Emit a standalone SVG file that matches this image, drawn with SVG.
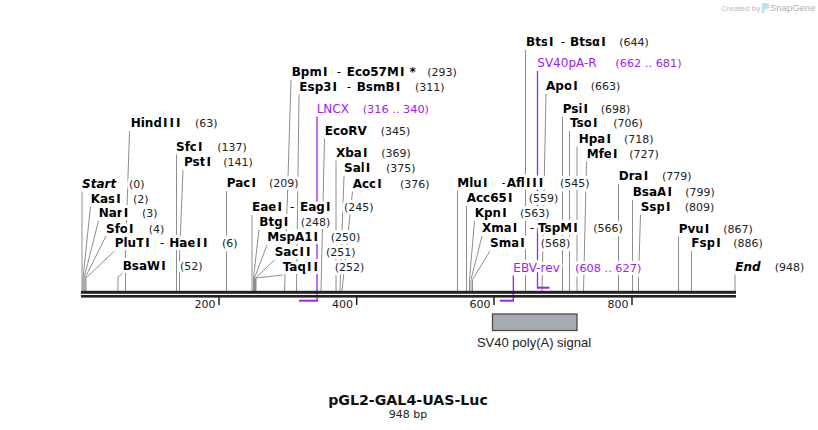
<svg xmlns="http://www.w3.org/2000/svg" width="818" height="430" viewBox="0 0 818 430">
<style>
text{font-family:"DejaVu Sans",Verdana,sans-serif}
.lbl text{stroke:#fff;stroke-width:6;stroke-linejoin:round;paint-order:stroke fill}
.n{font-size:12px;font-weight:bold;fill:#000}
.i{font-style:italic}
.c{font-size:11px;fill:#222}
.d{font-size:12px;fill:#000}
.p{font-size:12px;fill:#a020f0}
.pc{font-size:11.3px;fill:#a020f0}
.prm{fill:#a020f0}
#connectors path{fill:none;stroke:#8e8e8e;stroke-width:1}
#connectors path.pr{stroke:#a020f0;stroke-width:1.3}
.bb{fill:#222}
.tk{stroke:#222;stroke-width:1.5}
.tl{font-size:11px;fill:#222;text-anchor:end}
</style>
<rect width="818" height="430" fill="#fff"/>

<g id="logo">
<text x="721" y="10.5" style="font-family:'Liberation Sans',Arial,sans-serif;font-size:8px;fill:#bcbcbc">Created by</text>
<path d="M762 3h4.5a3 3 0 0 1 0 6h-2v4h-2.5z" fill="#bfe0f2"/>
<text x="770" y="11" style="font-family:'Liberation Sans',Arial,sans-serif;font-size:9.5px;fill:#b0b0b0">SnapGene</text>
</g>

<g id="connectors">
<path d="M82,291V191.5"/>
<path d="M83,291V278L90.5,206.5"/>
<path d="M84,291V278L98.5,221"/>
<path d="M85,291V278L106,236"/>
<path d="M86,291V278L114.5,251"/>
<path d="M118,291V277L122.5,273.5"/>
<path d="M125.5,291V253L129.5,131"/>
<path d="M176.5,291V154.5"/>
<path d="M179.5,291V257L183,170"/>
<path d="M226.5,291V191"/>
<path d="M252,291V215"/>
<path d="M253.5,291V278L259,229.5"/>
<path d="M254.5,291V278L267,245"/>
<path d="M255.5,291V278L274.5,260"/>
<path d="M256,291V278L282.5,275"/>
<path d="M284.5,291L291,80"/>
<path d="M296.5,291L299,94.5"/>
<path d="M321,291L324.5,138.5"/>
<path d="M336,291V160.5"/>
<path d="M340,291L344,176"/>
<path d="M342,291L352.5,191.5"/>
<path d="M457.5,291V191"/>
<path d="M466.5,291V206"/>
<path d="M469.5,291V279.5L474.5,221"/>
<path d="M471,291V279.5L482,236"/>
<path d="M472.5,291V279.5L490,251"/>
<path d="M525.5,291V50"/>
<path d="M542,291L546,94"/>
<path d="M562.5,291V116.5"/>
<path d="M569.5,291V131"/>
<path d="M577,291V146.5"/>
<path d="M583.5,291L586.5,161.5"/>
<path d="M618.5,291V184"/>
<path d="M632.5,291V200"/>
<path d="M638.5,291V280L640.5,214.5"/>
<path d="M678.5,291V236.5"/>
<path d="M691.5,291V251"/>
<path d="M735,291V274.5"/>
<path class="pr" d="M317,116.5V301"/>
<path class="pr" d="M513.3,275.5V301"/>
<path class="pr" d="M537.5,71V288"/>
</g>

<g id="backbone">
<rect class="bb" x="81" y="290.8" width="655" height="3"/>
<rect class="bb" x="81" y="295" width="655" height="2.6"/>
<line class="tk" x1="219" y1="297" x2="219" y2="305"/>
<line class="tk" x1="356.7" y1="297" x2="356.7" y2="305"/>
<line class="tk" x1="494" y1="297" x2="494" y2="305"/>
<line class="tk" x1="632" y1="297" x2="632" y2="305"/>
<text class="tl" x="215.5" y="307.5">200</text>
<text class="tl" x="353" y="307.5">400</text>
<text class="tl" x="490.5" y="307.5">600</text>
<text class="tl" x="628.5" y="307.5">800</text>
</g>

<g id="lncx-primer"><rect class="prm" x="299" y="299.7" width="19" height="2"/></g>
<g id="ebv-rev-primer"><rect class="prm" x="500" y="299.7" width="14" height="2"/></g>
<g id="sv40pa-r-primer"><rect class="prm" x="537" y="286.7" width="12.5" height="2"/></g>

<g id="sv40-polya-signal">
<rect x="492.5" y="314" width="84.5" height="16.5" fill="#a6abb3" stroke="#4a4a4a" stroke-width="1.3"/>
<text x="534" y="347" text-anchor="middle" style="font-family:'Liberation Sans',Arial,sans-serif;font-size:13px;fill:#222">SV40 poly(A) signal</text>
</g>

<g class="lbl">
<g id="start"><text class="n i" x="82" y="187.5">Start</text><text class="c" x="129" y="187.5">(0)</text></g>
<g id="kasi"><text class="n" x="90.7" y="202.7">Kas<tspan dx="1">I</tspan></text><text class="c" x="133" y="202.7">(2)</text></g>
<g id="nari"><text class="n" x="98.7" y="217.3">Nar<tspan dx="1">I</tspan></text><text class="c" x="142" y="217.3">(3)</text></g>
<g id="sfoi"><text class="n" x="106" y="232.5">Sfo<tspan dx="1">I</tspan></text><text class="c" x="148.7" y="232.5">(4)</text></g>
<g id="pluti-haeii"><text class="n" x="114.7" y="247.3">PluT<tspan dx="1">I</tspan></text><text class="d" x="160" y="247.3">-</text><text class="n" x="169.3" y="247.3">Hae<tspan dx="1">I</tspan><tspan dx="2">I</tspan></text><text class="c" x="222" y="247.3">(6)</text></g>
<g id="bsawi"><text class="n" x="122.7" y="270">BsaW<tspan dx="1">I</tspan></text><text class="c" x="180" y="270">(52)</text></g>
<g id="hindiii"><text class="n" x="130.7" y="127.3">Hind<tspan dx="1">I</tspan><tspan dx="2">I</tspan><tspan dx="2">I</tspan></text><text class="c" x="195" y="127.3">(63)</text></g>
<g id="sfci"><text class="n" x="176" y="150.7">Sfc<tspan dx="1">I</tspan></text><text class="c" x="217.3" y="150.7">(137)</text></g>
<g id="psti"><text class="n" x="184" y="166">Pst<tspan dx="1">I</tspan></text><text class="c" x="223.3" y="166">(141)</text></g>
<g id="paci"><text class="n" x="226.7" y="187.3">Pac<tspan dx="1">I</tspan></text><text class="c" x="269" y="187.3">(209)</text></g>
<g id="eaei-eagi"><text class="n" x="252" y="210.7">Eae<tspan dx="1">I</tspan></text><text class="d" x="290" y="210.7">-</text><text class="n" x="300" y="210.7">Eag<tspan dx="1">I</tspan></text><text class="c" x="344" y="210.7">(245)</text></g>
<g id="btgi"><text class="n" x="259.3" y="225.7">Btg<tspan dx="1">I</tspan></text><text class="c" x="300.7" y="225.7">(248)</text></g>
<g id="mspa1i"><text class="n" x="267.3" y="241">MspA1<tspan dx="1">I</tspan></text><text class="c" x="330.7" y="241">(250)</text></g>
<g id="sacii"><text class="n" x="274.7" y="256">Sac<tspan dx="1">I</tspan><tspan dx="2">I</tspan></text><text class="c" x="326" y="256">(251)</text></g>
<g id="taqii"><text class="n" x="282.7" y="271">Taq<tspan dx="1">I</tspan><tspan dx="2">I</tspan></text><text class="c" x="334.7" y="271">(252)</text></g>
<g id="bpmi-eco57mi"><text class="n" x="291.7" y="76">Bpm<tspan dx="1">I</tspan></text><text class="d" x="336.7" y="76">-</text><text class="n" x="346.7" y="76">Eco57M<tspan dx="1">I</tspan><tspan dx="1"> *</tspan></text><text class="c" x="427.3" y="76">(293)</text></g>
<g id="esp3i-bsmbi"><text class="n" x="299.3" y="90.7">Esp3<tspan dx="1">I</tspan></text><text class="d" x="346.7" y="90.7">-</text><text class="n" x="356.7" y="90.7">BsmB<tspan dx="1">I</tspan></text><text class="c" x="415" y="90.7">(311)</text></g>
<g id="lncx"><text class="p" x="316.7" y="112.7">LNCX</text><text class="pc" x="362.7" y="112.7">(316 .. 340)</text></g>
<g id="ecorv"><text class="n" x="324.7" y="134.7">EcoRV</text><text class="c" x="380.7" y="134.7">(345)</text></g>
<g id="xbai"><text class="n" x="336" y="156.7">Xba<tspan dx="1">I</tspan></text><text class="c" x="381.3" y="156.7">(369)</text></g>
<g id="sali"><text class="n" x="344" y="172.3">Sal<tspan dx="1">I</tspan></text><text class="c" x="386" y="172.3">(375)</text></g>
<g id="acci"><text class="n" x="352.7" y="187.7">Acc<tspan dx="1">I</tspan></text><text class="c" x="400" y="187.7">(376)</text></g>
<g id="mlui-afliii"><text class="n" x="457.3" y="187.3">Mlu<tspan dx="1">I</tspan></text><text class="d" x="501.7" y="187.3">-</text><text class="n" x="506.7" y="187.3">Afl<tspan dx="1">I</tspan><tspan dx="2">I</tspan><tspan dx="2">I</tspan></text><text class="c" x="560" y="187.3">(545)</text></g>
<g id="acc65i"><text class="n" x="466.7" y="202.3">Acc65<tspan dx="1">I</tspan></text><text class="c" x="528.7" y="202.3">(559)</text></g>
<g id="kpni"><text class="n" x="474.7" y="217.3">Kpn<tspan dx="1">I</tspan></text><text class="c" x="520" y="217.3">(563)</text></g>
<g id="xmai-tspmi"><text class="n" x="482" y="232.3">Xma<tspan dx="1">I</tspan></text><text class="d" x="530" y="232.3">-</text><text class="n" x="538" y="232.3">TspM<tspan dx="1">I</tspan></text><text class="c" x="593.3" y="232.3">(566)</text></g>
<g id="smai"><text class="n" x="490" y="247.3">Sma<tspan dx="1">I</tspan></text><text class="c" x="540.7" y="247.3">(568)</text></g>
<g id="ebv-rev"><text class="p" x="513.3" y="271.7">EBV-rev</text><text class="pc" x="575" y="271.7">(608 .. 627)</text></g>
<g id="btsi-btsai"><text class="n" x="526" y="46">Bts<tspan dx="1">I</tspan></text><text class="d" x="560.7" y="46">-</text><text class="n" x="570" y="46">Btsα<tspan dx="1">I</tspan></text><text class="c" x="619.3" y="46">(644)</text></g>
<g id="sv40pa-r"><text class="p" x="537.3" y="67.3">SV40pA-R</text><text class="pc" x="615.3" y="67.3">(662 .. 681)</text></g>
<g id="apoi"><text class="n" x="546" y="90">Apo<tspan dx="1">I</tspan></text><text class="c" x="590.7" y="90">(663)</text></g>
<g id="psii"><text class="n" x="562.7" y="112.7">Psi<tspan dx="1">I</tspan></text><text class="c" x="600.7" y="112.7">(698)</text></g>
<g id="tsoi"><text class="n" x="570" y="127.3">Tso<tspan dx="1">I</tspan></text><text class="c" x="613.3" y="127.3">(706)</text></g>
<g id="hpai"><text class="n" x="578.7" y="142.7">Hpa<tspan dx="1">I</tspan></text><text class="c" x="624" y="142.7">(718)</text></g>
<g id="mfei"><text class="n" x="586.7" y="157.7">Mfe<tspan dx="1">I</tspan></text><text class="c" x="629.3" y="157.7">(727)</text></g>
<g id="drai"><text class="n" x="618.7" y="180">Dra<tspan dx="1">I</tspan></text><text class="c" x="662" y="180">(779)</text></g>
<g id="bsaai"><text class="n" x="632.7" y="196">BsaA<tspan dx="1">I</tspan></text><text class="c" x="685.3" y="196">(799)</text></g>
<g id="sspi"><text class="n" x="640.7" y="210.7">Ssp<tspan dx="1">I</tspan></text><text class="c" x="684.7" y="210.7">(809)</text></g>
<g id="pvui"><text class="n" x="678.7" y="232.7">Pvu<tspan dx="1">I</tspan></text><text class="c" x="723.3" y="232.7">(867)</text></g>
<g id="fspi"><text class="n" x="691.3" y="247.3">Fsp<tspan dx="1">I</tspan></text><text class="c" x="733.3" y="247.3">(886)</text></g>
<g id="end"><text class="n i" x="735.3" y="270.7">End</text><text class="c" x="774.7" y="270.7">(948)</text></g>
</g>

<g id="title">
<text x="408" y="404.5" text-anchor="middle" style="font-size:14.2px;font-weight:bold;fill:#111">pGL2-GAL4-UAS-Luc</text>
<text x="408" y="417.5" text-anchor="middle" style="font-size:11px;fill:#222">948 bp</text>
</g>
</svg>
